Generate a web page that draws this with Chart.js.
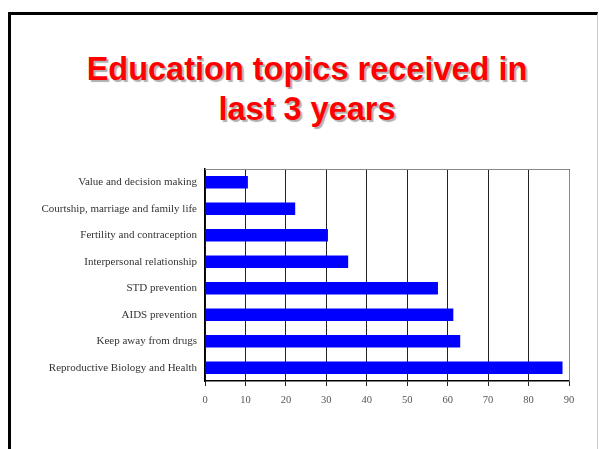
<!DOCTYPE html>
<html>
<head>
<meta charset="utf-8">
<script src="https://cdn.jsdelivr.net/npm/chart.js@4"></script>
<style>
  html, body { margin: 0; padding: 0; background: #fff; }
  body { width: 599px; height: 449px; position: relative; overflow: hidden; }
  .slide {
    position: absolute; left: 8px; top: 12px; width: 586px; height: 460px;
    border-left: 3px solid #000; border-top: 3px solid #000; border-right: 1px solid #ccc;
  }
  .title {
    position: absolute; left: 11px; top: 49px; width: 592px; text-align: center;
    font: bold 32.5px "Liberation Sans", Arial, sans-serif; line-height: 40px;
    color: #ff0000; text-shadow: 2px 2px 1px #b0b0b0;
  }
  #chart { position: absolute; left: 0; top: 0; }
</style>
</head>
<body>
<div class="slide"></div>
<div class="title">Education topics received in<br>last 3 years</div>
<canvas id="chart" width="599" height="449"></canvas>
<script>
const topics = [
  "Value and decision making",
  "Courtship, marriage and family life",
  "Fertility and contraception",
  "Interpersonal relationship",
  "STD prevention",
  "AIDS prevention",
  "Keep away from drugs",
  "Reproductive Biology and Health",
];
const percents = [10.6, 22.3, 30.4, 35.4, 57.6, 61.4, 63.1, 88.4];
const xMax = 90;
const xStep = 10;

// grey box around the plot area
const plotFrame = {
  id: "plotFrame",
  beforeDatasetsDraw(chart) {
    const { ctx, chartArea: a } = chart;
    ctx.save();
    ctx.strokeStyle = "#888";
    ctx.lineWidth = 1;
    ctx.beginPath();
    ctx.moveTo(a.left, a.top + 0.5);
    ctx.lineTo(a.right + 0.5, a.top + 0.5);
    ctx.lineTo(a.right + 0.5, a.bottom);
    ctx.stroke();
    ctx.restore();
  },
};

new Chart(document.getElementById("chart"), {
  type: "bar",
  data: {
    labels: topics,
    datasets: [{
      data: percents,
      backgroundColor: "#0000ff",
      borderWidth: 0,
      barPercentage: 0.48,
      categoryPercentage: 1,
    }],
  },
  options: {
    indexAxis: "y",
    responsive: false,
    animation: false,
    layout: { padding: { top: 169, right: 30, bottom: 28, left: 0 } },
    plugins: { legend: { display: false }, tooltip: { enabled: false } },
    scales: {
      x: {
        min: 0,
        max: xMax,
        afterFit(scale) { scale.height = 40; },
        ticks: {
          stepSize: xStep,
          color: "#555",
          padding: 8,
          font: { family: "'Liberation Serif', serif", size: 10.5 },
        },
        grid: { color: "#222", lineWidth: 1, tickLength: 5, drawOnChartArea: true },
        border: { color: "#000", width: 1.5 },
      },
      y: {
        afterFit(scale) { scale.width = 205; },
        ticks: {
          color: "#333",
          padding: 8,
          font: { family: "'Liberation Serif', serif", size: 11 },
        },
        grid: { display: false, drawTicks: false, tickLength: 0 },
        border: { color: "#000", width: 1.5 },
      },
    },
  },
  plugins: [plotFrame],
});
</script>
</body>
</html>
